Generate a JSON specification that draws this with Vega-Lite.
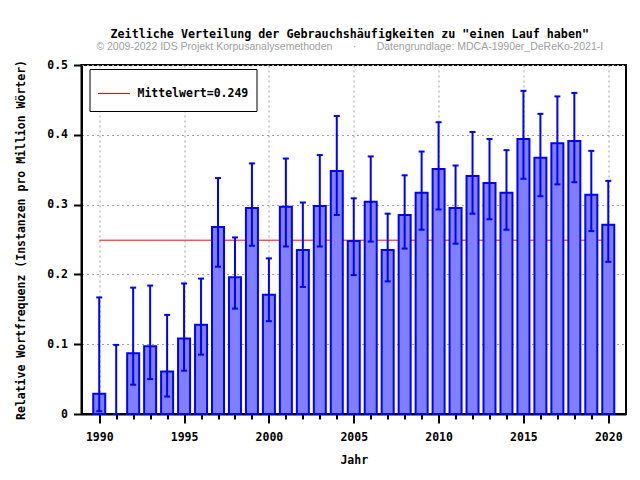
{
  "$schema": "https://vega.github.io/schema/vega-lite/v6.json",
  "autosize": "none",
  "width": 544.5,
  "height": 349,
  "padding": {"left": 81.5, "top": 65, "right": 14, "bottom": 66},
  "background": "white",
  "title": {
    "text": "Zeitliche Verteilung der Gebrauchshäufigkeiten zu \"einen Lauf haben\"",
    "subtitle": "© 2009-2022 IDS Projekt Korpusanalysemethoden\u00a0\u00a0\u00a0\u00a0\u00a0\u00a0\u00a0·\u00a0\u00a0\u00a0\u00a0\u00a0\u00a0\u00a0Datengrundlage: MDCA-1990er_DeReKo-2021-I",
    "font": "DejaVu Sans Mono",
    "fontWeight": "bold",
    "fontSize": 11.7,
    "color": "black",
    "subtitleFont": "Liberation Sans",
    "subtitleFontSize": 10.5,
    "subtitleColor": "#a0a0a0",
    "subtitlePadding": 1,
    "offset": 7,
    "dx": -4,
    "anchor": "middle"
  },
  "config": {
    "view": {"stroke": "black", "strokeWidth": 2}
  },
  "data": {
    "values": [
      {"year": 1990, "value": 0.029, "lo": 0.004, "hi": 0.167},
      {"year": 1991, "value": null, "lo": 0.0, "hi": 0.099},
      {"year": 1992, "value": 0.087, "lo": 0.042, "hi": 0.181},
      {"year": 1993, "value": 0.097, "lo": 0.050, "hi": 0.184},
      {"year": 1994, "value": 0.061, "lo": 0.025, "hi": 0.142},
      {"year": 1995, "value": 0.108, "lo": 0.062, "hi": 0.187},
      {"year": 1996, "value": 0.128, "lo": 0.085, "hi": 0.194},
      {"year": 1997, "value": 0.268, "lo": 0.211, "hi": 0.338},
      {"year": 1998, "value": 0.196, "lo": 0.151, "hi": 0.253},
      {"year": 1999, "value": 0.295, "lo": 0.241, "hi": 0.359},
      {"year": 2000, "value": 0.171, "lo": 0.133, "hi": 0.223},
      {"year": 2001, "value": 0.297, "lo": 0.240, "hi": 0.366},
      {"year": 2002, "value": 0.235, "lo": 0.182, "hi": 0.303},
      {"year": 2003, "value": 0.298, "lo": 0.240, "hi": 0.371},
      {"year": 2004, "value": 0.348, "lo": 0.285, "hi": 0.427},
      {"year": 2005, "value": 0.248, "lo": 0.199, "hi": 0.309},
      {"year": 2006, "value": 0.304, "lo": 0.247, "hi": 0.369},
      {"year": 2007, "value": 0.235, "lo": 0.190, "hi": 0.287},
      {"year": 2008, "value": 0.285, "lo": 0.237, "hi": 0.342},
      {"year": 2009, "value": 0.317, "lo": 0.264, "hi": 0.376},
      {"year": 2010, "value": 0.351, "lo": 0.293, "hi": 0.418},
      {"year": 2011, "value": 0.295, "lo": 0.244, "hi": 0.356},
      {"year": 2012, "value": 0.341, "lo": 0.287, "hi": 0.404},
      {"year": 2013, "value": 0.331, "lo": 0.279, "hi": 0.394},
      {"year": 2014, "value": 0.317, "lo": 0.264, "hi": 0.378},
      {"year": 2015, "value": 0.394, "lo": 0.337, "hi": 0.463},
      {"year": 2016, "value": 0.367, "lo": 0.312, "hi": 0.430},
      {"year": 2017, "value": 0.388, "lo": 0.329, "hi": 0.455},
      {"year": 2018, "value": 0.391, "lo": 0.332, "hi": 0.460},
      {"year": 2019, "value": 0.314, "lo": 0.262, "hi": 0.377},
      {"year": 2020, "value": 0.271, "lo": 0.218, "hi": 0.334}
    ]
  },
  "encoding": {
    "x": {
      "field": "year",
      "type": "quantitative",
      "scale": {"domain": [1989.25, 2020.75], "nice": false, "zero": false},
      "axis": {
        "title": "Jahr",
        "values": [1990,1991,1992,1993,1994,1995,1996,1997,1998,1999,2000,2001,2002,2003,2004,2005,2006,2007,2008,2009,2010,2011,2012,2013,2014,2015,2016,2017,2018,2019,2020],
        "format": "d",
        "labelExpr": "datum.value % 5 == 0 ? datum.label : ''",
        "labelOverlap": false,
        "labelFlush": false,
        "tickSize": {"condition": {"test": "datum.value % 5 == 0", "value": 9}, "value": 5},
        "tickWidth": 2,
        "tickColor": "black",
        "domainColor": "black",
        "domainWidth": 2,
        "grid": true,
        "gridColor": "#a0a0a0",
        "gridDash": [2, 3],
        "gridWidth": 1,
        "gridOpacity": {"condition": {"test": "datum.value % 5 == 0", "value": 1}, "value": 0},
        "labelFont": "DejaVu Sans Mono",
        "labelFontWeight": "bold",
        "labelFontSize": 11.5,
        "labelColor": "black",
        "labelPadding": 8,
        "titleFont": "DejaVu Sans Mono",
        "titleFontWeight": "bold",
        "titleFontSize": 11.5,
        "titleColor": "black",
        "titlePadding": 12
      }
    }
  },
  "layer": [
    {
      "mark": {"type": "line", "strokeWidth": 1},
      "encoding": {
        "y": {"datum": 0.249, "type": "quantitative"},
        "color": {
          "datum": "Mittelwert=0.249",
          "type": "nominal",
          "scale": {"range": ["#ff0000"]},
          "legend": {
            "orient": "none",
            "legendX": 8,
            "legendY": 4,
            "title": null,
            "symbolType": "M-1,-0.45M-1,0L1,0M1,0.45",
            "symbolSize": 1024,
            "symbolStrokeWidth": 1,
            "symbolStrokeColor": "#ff0000",
            "symbolFillColor": "transparent",
            "labelFont": "DejaVu Sans Mono",
            "labelFontWeight": "bold",
            "labelFontSize": 11.5,
            "labelColor": "black",
            "labelOffset": 7,
            "padding": 8,
            "strokeColor": "black",
            "fillColor": "white"
          }
        }
      }
    },
    {
      "mark": {"type": "bar", "orient": "vertical", "size": 12, "fill": "#8080ff", "stroke": "#0000ff", "strokeWidth": 2},
      "encoding": {
        "y": {
          "field": "value",
          "type": "quantitative",
          "stack": null,
          "scale": {"domain": [0, 0.5], "nice": false},
          "axis": {
            "title": "Relative Wortfrequenz (Instanzen pro Million Wörter)",
            "values": [0, 0.05, 0.1, 0.15, 0.2, 0.25, 0.3, 0.35, 0.4, 0.45, 0.5],
            "format": "~g",
            "labelExpr": "round(datum.value * 100) % 10 == 0 ? datum.label : ''",
            "labelOverlap": false,
            "labelFlush": false,
            "tickSize": {"condition": {"test": "round(datum.value * 100) % 10 == 0", "value": 8}, "value": 4},
            "tickWidth": 2,
            "tickColor": "black",
            "domainColor": "black",
            "domainWidth": 2,
            "grid": true,
            "gridColor": "#a0a0a0",
            "gridDash": [2, 3],
            "gridWidth": 1,
            "gridOpacity": {"condition": {"test": "round(datum.value * 100) % 10 == 0", "value": 1}, "value": 0},
            "labelFont": "DejaVu Sans Mono",
            "labelFontWeight": "bold",
            "labelFontSize": 11.5,
            "labelColor": "black",
            "labelPadding": 6,
            "titleFont": "DejaVu Sans Mono",
            "titleFontWeight": "bold",
            "titleFontSize": 11.5,
            "titleColor": "black",
            "titlePadding": 20
          }
        }
      }
    },
    {
      "mark": {"type": "rule", "color": "#0000ff", "strokeWidth": 2},
      "encoding": {
        "y": {"field": "lo", "type": "quantitative"},
        "y2": {"field": "hi"}
      }
    },
    {
      "mark": {"type": "tick", "orient": "horizontal", "color": "#0000ff", "size": 6, "thickness": 2, "opacity": 1},
      "encoding": {
        "y": {"field": "lo", "type": "quantitative"}
      }
    },
    {
      "mark": {"type": "tick", "orient": "horizontal", "color": "#0000ff", "size": 6, "thickness": 2, "opacity": 1},
      "encoding": {
        "y": {"field": "hi", "type": "quantitative"}
      }
    }
  ]
}
